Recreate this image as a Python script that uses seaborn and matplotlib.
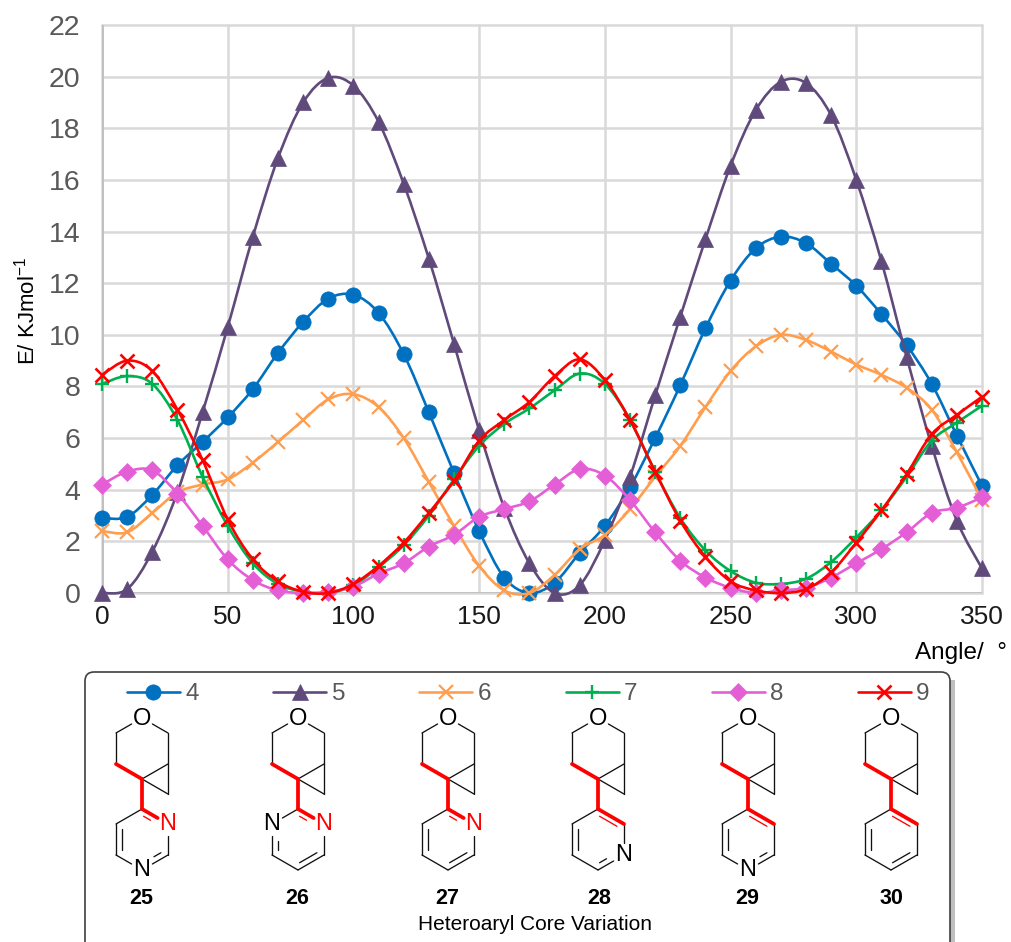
# import libraries
import numpy as np
import matplotlib
matplotlib.use("Agg")
import matplotlib.pyplot as plt
import seaborn as sns
from matplotlib.lines import Line2D
from matplotlib.path import Path
from matplotlib.patches import PathPatch, FancyBboxPatch, Rectangle

# data
angle = list(range(0, 360, 10))
e4 = [2.9, 2.95, 3.8, 4.95, 5.85, 6.8, 7.9, 9.3, 10.5, 11.4, 11.55, 10.85, 9.25, 7.0, 4.65, 2.4, 0.6, 0.0,
      0.4, 1.55, 2.6, 4.1, 6.0, 8.05, 10.25, 12.1, 13.35, 13.8, 13.55, 12.75, 11.9, 10.8, 9.6, 8.1, 6.1, 4.15]
e5 = [0.0, 0.15, 1.6, 3.9, 7.0, 10.3, 13.8, 16.85, 19.0, 19.95, 19.65, 18.25, 15.85, 12.95, 9.65, 6.3, 3.3, 1.15,
      0.0, 0.3, 2.05, 4.5, 7.65, 10.7, 13.7, 16.55, 18.7, 19.8, 19.75, 18.5, 16.0, 12.85, 9.15, 5.7, 2.8, 0.95]
e6 = [2.4, 2.35, 3.1, 3.9, 4.2, 4.4, 5.05, 5.85, 6.7, 7.5, 7.7, 7.2, 6.0, 4.3, 2.6, 1.05, 0.1, 0.0,
      0.7, 1.7, 2.25, 3.25, 4.5, 5.7, 7.2, 8.6, 9.55, 10.0, 9.8, 9.35, 8.85, 8.45, 7.95, 7.1, 5.45, 3.6]
e7 = [8.1, 8.4, 8.1, 6.7, 4.5, 2.6, 1.15, 0.35, 0.05, 0.0, 0.3, 1.0, 1.85, 3.0, 4.4, 5.7, 6.55, 7.15,
      7.85, 8.5, 8.1, 6.7, 4.7, 2.9, 1.65, 0.85, 0.4, 0.35, 0.55, 1.2, 2.15, 3.2, 4.5, 5.9, 6.6, 7.25]
e8 = [4.2, 4.7, 4.75, 3.85, 2.6, 1.3, 0.5, 0.1, 0.0, 0.05, 0.25, 0.75, 1.15, 1.8, 2.25, 2.95, 3.25, 3.55,
      4.2, 4.8, 4.55, 3.6, 2.35, 1.25, 0.6, 0.2, 0.0, 0.1, 0.2, 0.6, 1.15, 1.7, 2.35, 3.1, 3.3, 3.7]
e9 = [8.45, 9.0, 8.6, 7.1, 5.15, 2.85, 1.3, 0.45, 0.05, 0.0, 0.35, 1.05, 1.95, 3.1, 4.35, 5.9, 6.7, 7.4,
      8.4, 9.05, 8.25, 6.7, 4.7, 2.8, 1.4, 0.45, 0.1, 0.0, 0.15, 0.8, 1.95, 3.2, 4.6, 6.15, 6.9, 7.6]

series_names = ["4", "5", "6", "7", "8", "9"]
series_vals = [e4, e5, e6, e7, e8, e9]
series_cols = ["#0070C0", "#604A7B", "#FF9E4F", "#00B050", "#E45FD6", "#FF0000"]
series_mark = ["o", "^", "x", "+", "D", "x"]
series_size = [11, 11, 10.5, 9.5, 9, 10.5]
series_mew = [0.5, 0.5, 1.6, 1.7, 0.5, 1.9]

compound_names = ["25", "26", "27", "28", "29", "30"]
compound_x = [142, 298, 448, 598, 748, 891]
label_x = [141, 297, 447, 599, 747, 891]
# which ring atom carries which nitrogen, red or black
nitrogens = [{"a2": "red", "a4": "black"}, {"a2": "red", "a6": "black"}, {"a2": "red"},
             {"a3": "black"}, {"a4": "black"}, {}]

sns.set_theme(style="white")
plt.rcParams["font.family"] = ["Liberation Sans", "DejaVu Sans"]
plt.rcParams["mathtext.default"] = "regular"

W, H = 1011, 942
fig = plt.figure(figsize=(W / 100, H / 100), dpi=100, facecolor="white")

# overlay in pixel coordinates for the box and the structures
bg = fig.add_axes([0, 0, 1, 1], zorder=0)
bg.set_xlim(0, W)
bg.set_ylim(H, 0)
bg.axis("off")

ax = fig.add_axes([102 / W, (H - 593) / H, 880 / W, 568 / H], zorder=1)
ax.patch.set_alpha(0)


def smooth_line(ax, xs, ys, color, lw, z):
    # excel style smoothed line, bezier through every point
    pts = np.column_stack([xs, ys]).astype(float)
    verts = [pts[0]]
    codes = [Path.MOVETO]
    for i in range(len(pts) - 1):
        p0 = pts[max(i - 1, 0)]
        p1 = pts[i]
        p2 = pts[i + 1]
        p3 = pts[min(i + 2, len(pts) - 1)]
        verts += [p1 + (p2 - p0) / 6, p2 - (p3 - p1) / 6, p2]
        codes += [Path.CURVE4] * 3
    ax.add_patch(PathPatch(Path(verts, codes), fc="none", ec=color, lw=lw, zorder=z, clip_on=False,
                           capstyle="round"))


for i in range(6):
    smooth_line(ax, angle, series_vals[i], series_cols[i], 1.9, 3 + i)
    sns.lineplot(x=angle, y=series_vals[i], ax=ax, color=series_cols[i], marker=series_mark[i],
                 markersize=series_size[i], markeredgewidth=series_mew[i], markeredgecolor=series_cols[i],
                 linewidth=0, estimator=None, errorbar=None, clip_on=False, zorder=3 + i)

ax.set_xlim(0, 350)
ax.set_ylim(0, 22)
ax.set_xticks(range(0, 351, 50))
ax.set_yticks(range(0, 23, 2))
ax.grid(True, color="#D9D9D9", lw=1.8)
ax.set_axisbelow(True)
for line in ax.get_xgridlines() + ax.get_ygridlines():
    line.set_clip_on(False)
for s in ax.spines:
    ax.spines[s].set_visible(False)
ax.axvline(0, color="#BFBFBF", lw=2, zorder=1)
ax.axhline(0, color="#BFBFBF", lw=2, zorder=1)
ax.tick_params(axis="x", labelsize=19, labelcolor="#1a1a1a", length=0, pad=9)
ax.tick_params(axis="y", labelsize=20.5, labelcolor="#595959", length=0, pad=15.5)

bg.text(27, 311, "E/ KJmol$^{-1}$", rotation=90, ha="center", va="center", fontsize=16, color="black")
bg.text(915, 653, "Angle/  °", ha="left", va="center", fontsize=17.5, color="black")

# box below the chart
bg.add_patch(Rectangle((950, 680), 5, 270, fc="#BFBFBF", ec="none"))
bg.add_patch(FancyBboxPatch((91, 672 + 6), 853, 290, boxstyle="round,pad=6,rounding_size=9",
                            fc="white", ec="#404040", lw=1.2, zorder=1))

# legend
handles = [Line2D([], [], color=series_cols[i], lw=1.9, marker=series_mark[i], markersize=series_size[i],
                  markeredgewidth=series_mew[i], markeredgecolor=series_cols[i]) for i in range(6)]
fig.legend(handles, series_names, ncol=6, frameon=False, fontsize=17.5, labelcolor="#595959",
           handlelength=2.18, handletextpad=0.22, columnspacing=3.06, borderpad=0, borderaxespad=0,
           loc="center left", bbox_to_anchor=(127 / W, (H - 694) / H))

# skeleton of the structures, pixels relative to the oxygen
atoms = {"O": (0, 0), "lt": (-26, 15), "lb": (-26, 46), "sp": (0, 61), "rj": (26, 46), "rt": (26, 15),
         "cp": (26, 76), "a1": (0, 91), "a2": (26, 106), "a3": (26, 137), "a4": (0, 152),
         "a5": (-26, 137), "a6": (-26, 106)}
thin_bonds = [("O", "lt"), ("lt", "lb"), ("sp", "rj"), ("rj", "rt"), ("rt", "O"), ("rj", "cp"), ("cp", "sp"),
              ("a2", "a3"), ("a3", "a4"), ("a4", "a5"), ("a5", "a6"), ("a6", "a1")]
thick_bonds = [("lb", "sp"), ("sp", "a1"), ("a1", "a2")]
inner_bonds = [("a1", "a2"), ("a3", "a4"), ("a5", "a6")]


def bond(cx, a, b, labels, color, lw, inner=False):
    p = np.array(atoms[a], float)
    q = np.array(atoms[b], float)
    unit = (q - p) / np.linalg.norm(q - p)
    if a in labels:
        p = p + unit * 12
    if b in labels:
        q = q - unit * 12
    if inner:
        # second line of a double bond, pulled towards the ring centre
        centre = np.array([0, 121.5])
        mid = (p + q) / 2
        normal = np.array([-unit[1], unit[0]])
        if np.dot(normal, centre - mid) < 0:
            normal = -normal
        p = p + normal * 5.5 + unit * 5
        q = q + normal * 5.5 - unit * 5
    bg.plot([cx + p[0], cx + q[0]], [718 + p[1], 718 + q[1]], color=color, lw=lw,
            solid_capstyle="round", zorder=2)


for n in range(6):
    cx = compound_x[n]
    labels = ["O"] + list(nitrogens[n])
    for a, b in thin_bonds:
        bond(cx, a, b, labels, "#111111", 0.95)
    for a, b in inner_bonds:
        bond(cx, a, b, labels, "#FF0000" if a == "a1" else "#111111", 0.95, inner=True)
    for a, b in thick_bonds:
        bond(cx, a, b, labels, "#FF0000", 2.7)
    bg.text(cx, 719, "O", ha="center", va="center", fontsize=17, color="black", zorder=3)
    for a, col in nitrogens[n].items():
        bg.text(cx + atoms[a][0], 718 + atoms[a][1], "N", ha="center", va="center", fontsize=17,
                color="#FF0000" if col == "red" else "black", zorder=3)
    bg.text(label_x[n], 898, compound_names[n], ha="center", va="center", fontsize=15.5, fontweight="bold",
            color="black", zorder=3)

bg.text(535, 925, "Heteroaryl Core Variation", ha="center", va="center", fontsize=15, color="black", zorder=3)

fig.savefig("out.png", dpi=100)
